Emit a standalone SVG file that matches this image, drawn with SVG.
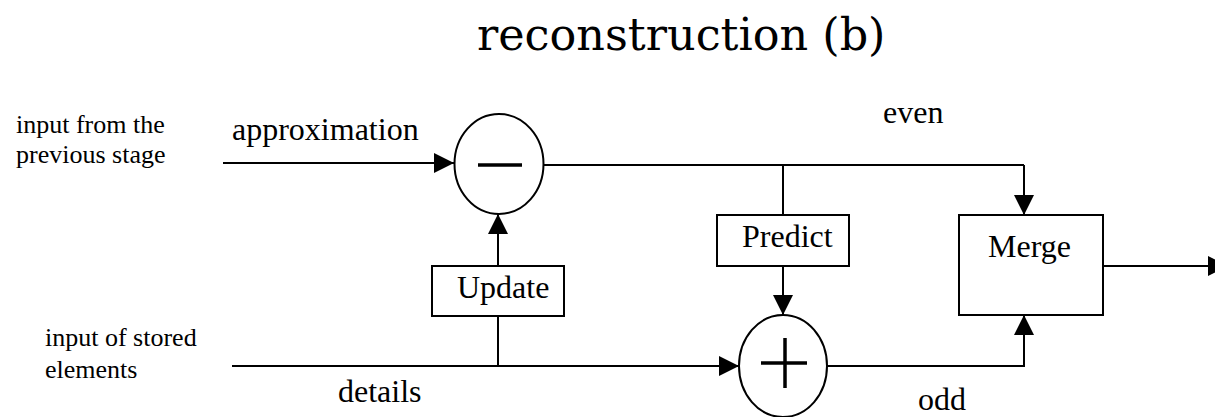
<svg xmlns="http://www.w3.org/2000/svg" width="1215" height="417" viewBox="0 0 1215 417">
<style>
.t{font-family:"Liberation Serif","Times New Roman",serif;fill:#000}
.lb{font-size:32px}
.sm{font-size:26px}
.title{font-family:"DejaVu Serif","Liberation Serif",serif;font-size:44.5px;fill:#000}
.box{fill:#fff;stroke:#000;stroke-width:2}
.op{fill:#fff;stroke:#000;stroke-width:2}
.sym{stroke:#000;stroke-width:3.5;fill:none}
.c{fill:none;stroke:#000;stroke-width:2}
</style>
<defs>
<marker id="ah" markerUnits="userSpaceOnUse" markerWidth="20" markerHeight="20" viewBox="0 0 18 18" refX="18" refY="9" orient="auto">
<path d="M0,0 L18,9 L0,18 Z" fill="#000"/>
</marker>
</defs>
<rect width="1215" height="417" fill="#fff"/>
<text class="title" x="477" y="50">reconstruction (b)</text>

<g id="connectors">
<line class="c" x1="223" y1="163" x2="454" y2="163" marker-end="url(#ah)"/>
<line class="c" x1="543" y1="165" x2="1024" y2="165"/>
<line class="c" x1="1024" y1="165" x2="1024" y2="215" marker-end="url(#ah)"/>
<line class="c" x1="783" y1="165" x2="783" y2="215"/>
<line class="c" x1="783" y1="266" x2="783" y2="315" marker-end="url(#ah)"/>
<line class="c" x1="232" y1="366" x2="739" y2="366" marker-end="url(#ah)"/>
<line class="c" x1="498" y1="366" x2="498" y2="316"/>
<line class="c" x1="498" y1="266" x2="498" y2="214" marker-end="url(#ah)"/>
<polyline class="c" points="827,366 1024,366 1024,315" marker-end="url(#ah)"/>
<line class="c" x1="1103" y1="266" x2="1228" y2="266" marker-end="url(#ah)"/>
</g>

<g id="minus">
<ellipse class="op" cx="499" cy="164" rx="44.5" ry="50"/>
<line class="sym" x1="478" y1="165" x2="522" y2="165"/>
</g>
<g id="plus">
<ellipse class="op" cx="783" cy="366" rx="44" ry="51"/>
<line class="sym" x1="761" y1="363" x2="807" y2="363"/>
<line class="sym" x1="785" y1="338" x2="785" y2="388"/>
</g>
<g id="update">
<rect class="box" x="432" y="266" width="132" height="50"/>
<text class="t lb" x="457" y="298">Update</text>
</g>
<g id="predict">
<rect class="box" x="717" y="215" width="132" height="51"/>
<text class="t lb" x="742" y="247">Predict</text>
</g>
<g id="merge">
<rect class="box" x="959" y="215" width="144" height="100"/>
<text class="t lb" x="988" y="257">Merge</text>
</g>

<g id="labels">
<text class="t sm" x="16" y="133">input from the</text>
<text class="t sm" x="16" y="163">previous stage</text>
<text class="t lb" x="232" y="140">approximation</text>
<text class="t lb" x="883" y="123">even</text>
<text class="t sm" x="45" y="346">input of stored</text>
<text class="t sm" x="45" y="378">elements</text>
<text class="t lb" x="338" y="402">details</text>
<text class="t lb" x="918" y="410">odd</text>
</g>
</svg>
